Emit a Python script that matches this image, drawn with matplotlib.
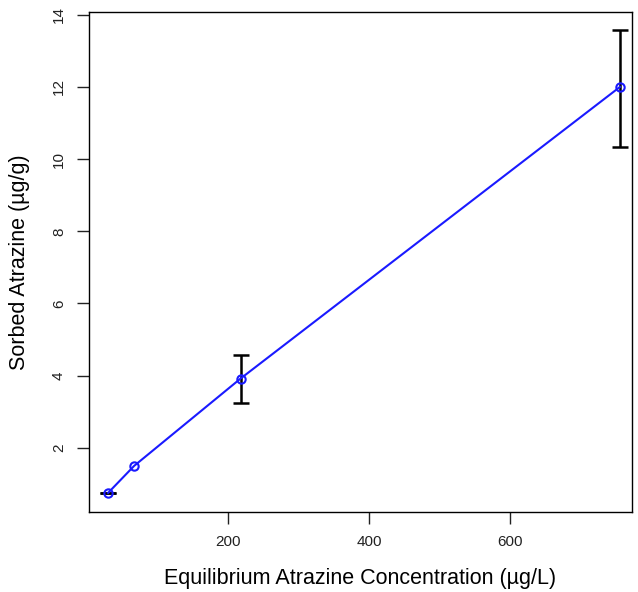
import matplotlib
matplotlib.use("Agg")
import matplotlib.pyplot as plt

plt.rcParams['font.family'] = ['Liberation Sans', 'DejaVu Sans']

conc = [30, 67, 218, 756]
sorbed = [0.75, 1.5, 3.92, 12.0]
# None = no error bar drawn for that point
err_lo = [0.0, None, 0.67, 1.67]
err_hi = [0.0, None, 0.66, 1.58]
xticks = [200, 400, 600]
yticks = [2, 4, 6, 8, 10, 12, 14]

fig = plt.figure(figsize=(6.38, 5.92), dpi=100)
ax = fig.add_axes([0.1395, 0.135, 0.851, 0.845])

ex = [c for c, e in zip(conc, err_lo) if e is not None]
ey = [s for s, e in zip(sorbed, err_lo) if e is not None]
el = [e for e in err_lo if e is not None]
eh = [e for e in err_hi if e is not None]
ax.errorbar(ex, ey, yerr=[el, eh], fmt='none', ecolor='black',
            elinewidth=1.8, capsize=6, capthick=1.8, zorder=2)
ax.plot(conc, sorbed, color='#1a1aff', lw=1.5, marker='o', markersize=6,
        markerfacecolor='none', markeredgecolor='#1a1aff', markeredgewidth=1.5, zorder=3)

ax.set_xlim(3, 773)
ax.set_ylim(0.22, 14.08)
ax.set_xticks(xticks)
ax.set_yticks(yticks)
ax.tick_params(direction='out', length=8.5, width=1, labelsize=11, colors='#222222', pad=8)
for lab in ax.get_yticklabels():
    lab.set_rotation(90)
    lab.set_va('center')
ax.set_xlabel('Equilibrium Atrazine Concentration (µg/L)', fontsize=15.5, labelpad=14)
ax.set_ylabel('Sorbed Atrazine (µg/g)', fontsize=15.5, labelpad=16)
for s in ax.spines.values():
    s.set_linewidth(1)
fig.savefig('out.png', dpi=100)
